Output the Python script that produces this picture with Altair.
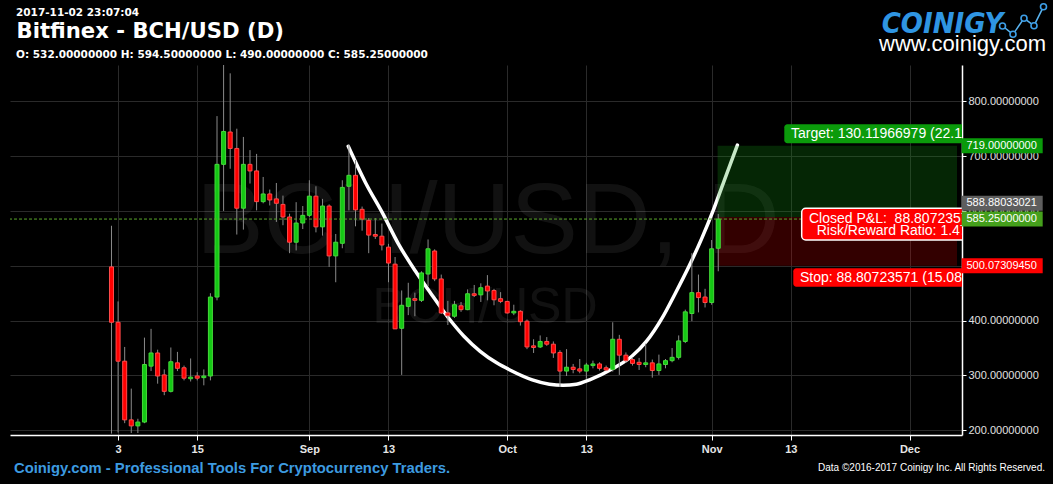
import altair as alt
import pandas as pd

# ---------------- data ----------------
# day index: 0 = 2017-08-01
days = list(range(1, 94))
opens = [498, 397, 326, 219, 208, 215, 317, 341, 301, 271, 323, 314, 294, 299, 296, 299, 443, 685, 744, 714,
         605, 685, 673, 617, 631, 622, 612, 589, 543, 578, 592, 627, 571, 609, 518, 541, 645, 665, 603, 583,
         557, 554, 534, 503, 386, 426, 440, 437, 485, 527, 476, 414, 408, 427, 420, 449, 447, 463, 455, 440,
         435, 414, 417, 399, 354, 352, 362, 357, 342, 308, 315, 312, 308, 318, 321, 314, 311, 366, 337, 329,
         324, 320, 323, 309, 320, 327, 333, 362, 413, 451, 443, 433, 532]
highs = [573, 435, 352, 276, 221, 369, 385, 347, 311, 351, 343, 318, 331, 306, 311, 450, 773, 872, 851, 750,
         735, 711, 704, 662, 639, 651, 628, 595, 616, 609, 656, 645, 622, 612, 558, 656, 721, 693, 608, 587,
         587, 577, 540, 516, 455, 469, 451, 490, 548, 530, 484, 436, 436, 434, 457, 465, 468, 483, 458, 452,
         436, 429, 419, 402, 366, 373, 370, 362, 346, 348, 321, 330, 323, 327, 324, 318, 397, 374, 342, 333,
         332, 358, 329, 338, 330, 350, 373, 420, 523, 484, 458, 547, 594.5]
lows = [194, 196, 213, 195, 195, 213, 308, 285, 264, 269, 308, 291, 289, 291, 282, 291, 437, 600, 677, 557,
        566, 650, 601, 614, 610, 580, 574, 523, 528, 567, 589, 561, 555, 498, 470, 532, 601, 572, 564, 523,
        549, 528, 470, 385, 301, 410, 408, 434, 463, 472, 412, 392, 405, 416, 419, 443, 434, 437, 428, 432,
        413, 410, 391, 348, 341, 350, 354, 332, 279, 299, 304, 304, 294, 313, 309, 309, 307, 301, 323, 318,
        310, 315, 296, 301, 313, 324, 329, 359, 399, 415, 424, 429, 490]
closes = [397, 326, 219, 208, 215, 320, 341, 299, 271, 325, 313, 295, 297, 295, 299, 443, 685, 745, 714, 605,
          685, 673, 617, 631, 620, 614, 589, 543, 578, 592, 627, 571, 609, 518, 543, 643, 665, 602, 585, 556,
          554, 538, 505, 385, 428, 441, 437, 487, 531, 476, 414, 409, 429, 420, 449, 446, 460, 454, 438, 435,
          414, 417, 398, 352, 351, 362, 357, 341, 308, 315, 311, 308, 319, 321, 313, 310, 366, 337, 327, 322,
          320, 323, 309, 321, 327, 333, 363, 416, 451, 442, 433, 531, 585.25]

tick_days = [2, 14, 31, 43, 61, 73, 92, 104, 122]
tick_labels = ["3", "15", "Sep", "13", "Oct", "13", "Nov", "13", "Dec"]
price_ticks = [200, 300, 400, 500, 600, 700, 800]

cup_days = [36.9, 39.5, 42.1, 44.5, 47.1, 49.4, 51.9, 54.4, 56.9, 59.4, 61.4, 64.8, 67.4, 69.5, 71.5,
            73.5, 77.1, 79.9, 82.1, 84.5, 86.5, 88.6, 90.5, 92.3, 94.2, 95.9]
cup_prices = [718, 652, 596, 540, 490, 450, 408, 372, 344, 323, 310, 292, 284, 282, 284,
              292, 313, 335, 362, 405, 450, 500, 550, 603, 665, 720]

current_price = 585.25
entry_price = 588.88033021
target_price = 719.0
stop_price = 500.07309450
entry_day = 92.9

tag_prices = [719.0, 588.88033021, 585.25, 500.07309450]
tag_texts = ["719.00000000", "588.88033021", "585.25000000", "500.07309450"]
tag_colors = ["#0a9a0a", "#5e5e5e", "#45a01c", "#ff0000"]
tag_shift_px = [0, -13.75, 0, 0]

# ---------------- layout ----------------
W, H = 952, 370
X_MIN, X_MAX = -13.63, 129.2
Y_MIN, Y_MAX = 191.4, 866.2
PXU = H / (Y_MAX - Y_MIN)
FONT = "Liberation Sans"
HFONT = "DejaVu Sans"

xs = alt.Scale(domain=[X_MIN, X_MAX], nice=False, zero=False)
ys = alt.Scale(domain=[Y_MIN, Y_MAX], nice=False, zero=False)

label_expr = ""
for d, l in zip(tick_days, tick_labels):
    label_expr += f"datum.value == {d} ? '{l}' : "
label_expr += "''"

x_axis = alt.Axis(values=tick_days, labelExpr=label_expr, grid=True, gridColor="#2a2a2a", gridWidth=1,
                  domainColor="#ffffff", domainWidth=1.5, tickColor="#ffffff", tickSize=5,
                  labelColor="#e6e6e6", labelFont=FONT, labelFontWeight="bold", labelFontSize=11,
                  labelPadding=3, labelFlush=False, labelOverlap=False, title=None)
y_axis = alt.Axis(orient="right", values=price_ticks, format=".8f", grid=True, gridColor="#2a2a2a",
                  gridWidth=1, domainColor="#ffffff", domainWidth=1.5, tickColor="#ffffff", tickSize=4,
                  labelColor="#e0e0e0", labelFont=FONT, labelFontSize=11, labelPadding=2,
                  labelOverlap=False, labelFlush=False, title=None)


def X(field):
    return alt.X(field, scale=xs, axis=x_axis)


def Y(field):
    return alt.Y(field, scale=ys, axis=y_axis)


candles = pd.DataFrame({"d": days, "open": opens, "high": highs, "low": lows, "close": closes})
candles["fill"] = ["#14c814" if c >= o else "#ff0000" for o, c in zip(opens, closes)]
candles["edge"] = ["#45da3a" if c >= o else "#ff4a4a" for o, c in zip(opens, closes)]

one = pd.DataFrame({"k": [0]})


def txt(s, x, y, size, color, weight="normal", font=FONT, align="left", baseline="alphabetic",
        italic=False, clip=False, opacity=1.0):
    return alt.Chart(one).mark_text(
        text=s, fontSize=size, color=color, fontWeight=weight, font=font, align=align,
        baseline=baseline, fontStyle="italic" if italic else "normal", clip=clip, opacity=opacity
    ).encode(x=alt.value(x), y=alt.value(y))


# watermark
wm1 = txt("BCH/USD, D", 478, 188, 101, "#ffffff", opacity=0.065, align="center")
wm2 = txt("BCH/USD", 475, 258, 50, "#ffffff", opacity=0.065, align="center")

# candles
wicks = alt.Chart(candles).mark_rule(color="#8a8a8a", strokeWidth=1, clip=True).encode(
    x=X("d:Q"), y=Y("low:Q"), y2="high:Q")
bodies = alt.Chart(candles).mark_bar(size=4, strokeWidth=1, clip=True).encode(
    x=X("d:Q"), y=Y("open:Q"), y2="close:Q",
    fill=alt.Fill("fill:N", scale=None), stroke=alt.Stroke("edge:N", scale=None))

# cup curve
cup = pd.DataFrame({"d": cup_days, "p": cup_prices})
cup_line = alt.Chart(cup).mark_line(color="#ffffff", strokeWidth=3.5, interpolate="monotone",
                                    strokeCap="round", clip=True).encode(
    x=X("d:Q"), y=Y("p:Q"), order="d:Q")

# position boxes
boxes = pd.DataFrame({"x": [entry_day, entry_day], "x2": [X_MAX, X_MAX],
                      "y": [entry_price, stop_price], "y2": [target_price, entry_price],
                      "fill": ["#14a014", "#ff0000"], "op": [0.24, 0.2]})
box_layer = alt.Chart(boxes).mark_rect(clip=True).encode(
    x=X("x:Q"), x2="x2:Q", y=Y("y:Q"), y2="y2:Q",
    fill=alt.Fill("fill:N", scale=None), opacity=alt.Opacity("op:Q", scale=None))

# current price dashed line
cur = pd.DataFrame({"p": [current_price]})
cur_line = alt.Chart(cur).mark_rule(color="#5aa62c", strokeWidth=1, strokeDash=[3, 2]).encode(y=Y("p:Q"))


# on-chart labels
def box(x, x2, y, y2, fill, stroke=None, sw=0, r=3):
    kw = dict(fill=fill, cornerRadius=r, clip=True)
    if stroke:
        kw.update(stroke=stroke, strokeWidth=sw)
    return alt.Chart(one).mark_rect(**kw).encode(
        x=alt.value(x), x2=alt.value(x2), y=alt.value(y), y2=alt.value(y2))


target_box = box(774.3, 958, 59.3, 78.3, "#0b9b0b")
target_txt = txt("Target: 130.11966979 (22.11%)", 781, 69, 14, "#ffffff", baseline="middle", clip=True)
pl_box = box(791.7, 960, 143.3, 175, "#ff0000", stroke="#ffffff", sw=1.5, r=4)
pl_txt1 = txt("Closed P&L:\u00a0 88.80723571", 799, 153.5, 14, "#ffffff", baseline="middle", clip=True)
pl_txt2 = txt("Risk/Reward Ratio: 1.47", 806.7, 165.5, 14, "#ffffff", baseline="middle", clip=True)
stop_box = box(783.3, 958, 203.3, 221.7, "#ff0000")
stop_txt = txt("Stop: 88.80723571 (15.08%)", 790, 212.5, 14, "#ffffff", baseline="middle", clip=True)

# price tags on the right axis
tags = pd.DataFrame({"price": tag_prices, "label": tag_texts, "fill": tag_colors, "shift": tag_shift_px})
tags["center"] = tags["price"] - tags["shift"] / PXU
tags["lo"] = tags["center"] - 7.5 / PXU
tags["hi"] = tags["center"] + 7.5 / PXU
tag_rect = alt.Chart(tags).mark_rect().encode(
    x=alt.value(951.7), x2=alt.value(1032.7), y=Y("lo:Q"), y2="hi:Q",
    fill=alt.Fill("fill:N", scale=None))
tag_txt = alt.Chart(tags).mark_text(align="left", baseline="middle", fontSize=11, font=FONT,
                                    color="#ffffff").encode(
    x=alt.value(956.5), y=Y("center:Q"), text="label:N")

# header
h1 = txt("2017-11-02 23:07:04", 6, -49, 10.5, "#ffffff", weight="bold", font=HFONT)
h2 = txt("Bitfinex - BCH/USD (D)", 6.5, -27.3, 21.2, "#ffffff", weight="bold", font=HFONT)
h3 = txt("O: 532.00000000 H: 594.50000000 L: 490.00000000 C: 585.25000000", 6, -6.7, 10.5,
         "#ffffff", weight="bold", font=HFONT)

# logo
logo1 = txt("COINIGY", 871.7, -32, 29, "#2f95e2", weight="bold",
            font="Liberation Sans Narrow, DejaVu Sans Condensed, sans-serif", italic=True)
logo2 = txt("www.coinigy.com", 869, -14.5, 22, "#ffffff", font=FONT)
logo_pts = [(992.5, -39), (1003, -30.7), (1014, -46.7), (1024, -39.3), (1033.5, -58.3)]
logo_layers = []
for (ax, ay), (bx, by) in zip(logo_pts[:-1], logo_pts[1:]):
    logo_layers.append(alt.Chart(one).mark_rule(color="#5ab4f0", strokeWidth=1.5).encode(
        x=alt.value(ax), x2=alt.value(bx), y=alt.value(ay), y2=alt.value(by)))
for (ax, ay) in logo_pts:
    logo_layers.append(alt.Chart(one).mark_point(shape="circle", size=36, filled=True, fill="#000000",
                                                 stroke="#3d9ee6", strokeWidth=1.6, opacity=1).encode(
        x=alt.value(ax), y=alt.value(ay)))

# footer
f1 = txt("Coinigy.com - Professional Tools For Cryptocurrency Traders.", 4, 408, 14.8, "#3d9be0",
         weight="bold")
f2 = txt("Data \u00a92016-2017 Coinigy Inc. All Rights Reserved.", 1035, 406, 10, "#ffffff", align="right")

chart = alt.layer(
    wm1, wm2, cup_line, box_layer, wicks, bodies, cur_line,
    target_box, target_txt, pl_box, pl_txt1, pl_txt2, stop_box, stop_txt,
    tag_rect, tag_txt, h1, h2, h3, logo1, logo2, *logo_layers, f1, f2
).properties(
    width=W, height=H,
    autosize=alt.AutoSizeParams(type="none"),
    padding={"left": 10, "top": 65, "right": 91, "bottom": 49},
    background="#000000",
).configure_view(stroke=None)

chart.save("out.html", embed_options={"renderer": "svg", "actions": False})
